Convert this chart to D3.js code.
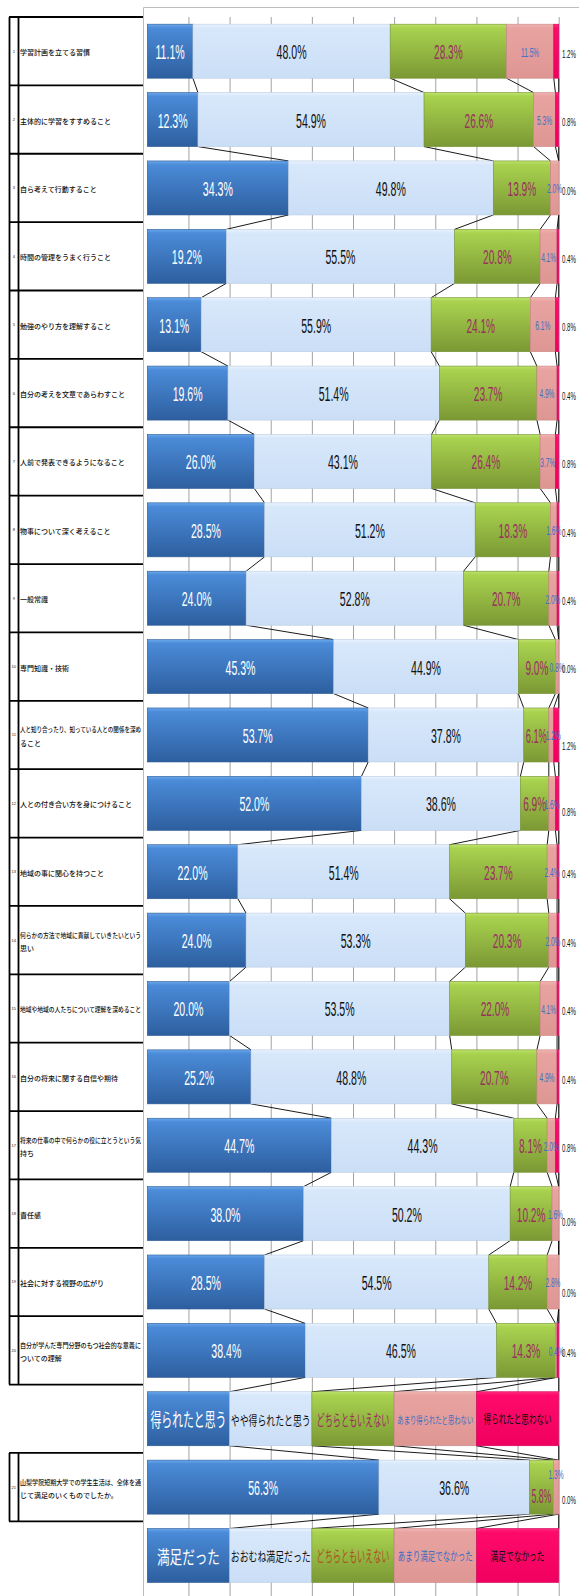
<!DOCTYPE html>
<html><head><meta charset="utf-8">
<script src="https://cdn.jsdelivr.net/npm/d3@7"></script>
<style>body{margin:0;background:#fff}svg{display:block}</style>
</head><body><svg id="c" width="579" height="1596"></svg>
<script>
// ---------- DATA ----------
const questions = [
  "学習計画を立てる習慣",
  "主体的に学習をすすめること",
  "自ら考えて行動すること",
  "時間の管理をうまく行うこと",
  "勉強のやり方を理解すること",
  "自分の考えを文章であらわすこと",
  "人前で発表できるようになること",
  "物事について深く考えること",
  "一般常識",
  "専門知識・技術",
  "人と知り合ったり、知っている人との関係を深め\nること",
  "人との付き合い方を身につけること",
  "地域の事に関心を持つこと",
  "何らかの方法で地域に貢献していきたいという\n思い",
  "地域や地域の人たちについて理解を深めること",
  "自分の将来に関する自信や期待",
  "将来の仕事の中で何らかの役に立とうという気\n持ち",
  "責任感",
  "社会に対する視野の広がり",
  "自分が学んだ専門分野のもつ社会的な意義に\nついての理解",
  "山梨学院短期大学での学生生活は、全体を通\nじて満足のいくものでしたか。"
];
const s1 = [11.1,12.3,34.3,19.2,13.1,19.6,26.0,28.5,24.0,45.3,53.7,52.0,22.0,24.0,20.0,25.2,44.7,38.0,28.5,38.4,56.3];
const s2 = [48.0,54.9,49.8,55.5,55.9,51.4,43.1,51.2,52.8,44.9,37.8,38.6,51.4,53.3,53.5,48.8,44.3,50.2,54.5,46.5,36.6];
const s3 = [28.3,26.6,13.9,20.8,24.1,23.7,26.4,18.3,20.7,9.0,6.1,6.9,23.7,20.3,22.0,20.7,8.1,10.2,14.2,14.3,5.8];
const s4 = [11.5,5.3,2.0,4.1,6.1,4.9,3.7,1.6,2.0,0.8,1.2,1.6,2.4,2.0,4.1,4.9,2.0,1.6,2.8,0.4,1.3];
const s5 = [1.2,0.8,0.0,0.4,0.8,0.4,0.8,0.4,0.4,0.0,1.2,0.8,0.4,0.4,0.4,0.4,0.8,0.0,0.0,0.4,0.0];
const legendA = ["得られたと思う","やや得られたと思う","どちらともいえない","あまり得られたと思わない","得られたと思わない"];
const legendB = ["満足だった","おおむね満足だった","どちらともいえない","あまり満足でなかった","満足でなかった"];
const legendShare = [20,20,20,20,20];
const gridTicks = [10,20,30,40,50,60,70,80,90,100];

// ---------- SETUP ----------
const svg = d3.select("#c");
const ids = [...d3.range(1,21).map(i=>"q"+i), "LA", "q21", "LB"];
const y = d3.scaleBand().domain(ids).range([17,1589.7]).paddingInner(0.21).paddingOuter(0.105);
const x = d3.scaleLinear().domain([0,100]).range([147.3,558.7]);
const bw = y.bandwidth();
const step = y.step();
const slotTop = id => y(id) - step*y.paddingInner()/2;
const series = [s1,s2,s3,s4,s5];

const rows = ids.map(id=>{
  if(id==="LA"||id==="LB") return {id, legend: id==="LA"?legendA:legendB, vals: legendShare};
  const i = +id.slice(1)-1;
  return {id, i, vals: series.map(s=>s[i])};
});
rows.forEach(r=>{
  const tot = d3.sum(r.vals); let c = 0;
  r.segs = r.vals.map((v,k)=>{const x0=c; c+=v/tot*100; return {k,v,x0,x1:c,row:r};});
});

// gradients
const defs = svg.append("defs");
const grads = [
  [["0","#6aa8ec"],["0.07","#4b8bd8"],["1","#2d5f9f"]],
  [["0","#eaf3fe"],["0.07","#d8e8fb"],["1","#cadef6"]],
  [["0","#bde36b"],["0.07","#a9d24f"],["1","#7b9834"]],
  [["0","#f0b4b1"],["0.07","#e8a3a0"],["1","#de9693"]],
  [["0","#ff2a7c"],["0.07","#ff0a6a"],["1","#f00060"]]
];
grads.forEach((g,k)=>{
  const lg = defs.append("linearGradient").attr("id","g"+k).attr("x1",0).attr("y1",0).attr("x2",0).attr("y2",1);
  g.forEach(s=>lg.append("stop").attr("offset",s[0]).attr("stop-color",s[1]));
});
const strokes = ["#2b5a94","#b9cbe2","#73902f","#c98684","#d0005a"];

// chart frame
svg.append("path").attr("d","M143.5,1596 V7.5 H579").attr("fill","none").attr("stroke","#bcbcbc").attr("stroke-width",1);

// gridlines
svg.append("g").attr("transform","translate(0,17)")
  .call(d3.axisTop(x).tickValues(gridTicks).tickSize(-(1596-17)).tickFormat(""))
  .call(g=>g.select(".domain").remove())
  .call(g=>g.selectAll("line").attr("stroke","#a3a3a3").attr("stroke-width",1));

// series lines
const sl = svg.append("g").attr("stroke","#000").attr("stroke-width",0.9);
for(let j=0;j<rows.length-1;j++){
  const a=rows[j], b=rows[j+1];
  for(let k=0;k<5;k++){
    sl.append("line")
      .attr("x1",x(a.segs[k].x1)).attr("y1",y(a.id)+bw)
      .attr("x2",x(b.segs[k].x1)).attr("y2",y(b.id));
  }
}

// bars
const rowG = svg.append("g").selectAll("g").data(rows).join("g");
rowG.selectAll("rect").data(r=>r.segs.filter(s=>s.x1-s.x0>0)).join("rect")
  .attr("x",s=>x(s.x0)).attr("y",s=>y(s.row.id))
  .attr("width",s=>x(s.x1)-x(s.x0)).attr("height",bw)
  .attr("fill",s=>`url(#g${s.k})`).attr("stroke",s=>strokes[s.k]).attr("stroke-width",0.6);

// data labels
const numFont = "'Liberation Sans Narrow','Liberation Sans',Arial,sans-serif";
function textW(txt, fs, family){
  const t = svg.append("text").attr("font-family",family).attr("font-size",fs).text(txt);
  const w = t.node().getComputedTextLength(); t.remove(); return w;
}
function fitScale(txt, fs, target, family){ return target/textW(txt,fs,family); }
const bigSx = fitScale("48.0%",21,30,numFont);
const s4Sx = fitScale("4.9%",13,15,numFont);
const s5Sx = fitScale("0.4%",11.5,14,numFont);
const fmt = v=>d3.format(".1f")(v)+"%";
const labelColors = ["#ffffff","#111111","#9a2f60","#3b70c4","#111111"];
// manual label placement tweaks (as in the original chart)
const s5Nudge = {q11:10, q12:7, q18:7, q19:10, q21:13};
const segNudge = {q21:{2:8, 3:-14}};
const segNudgeX = {q11:{3:2}};
const lab = svg.append("g").attr("font-family",numFont);
rows.filter(r=>!r.legend).forEach(r=>{
  const cy = y(r.id)+bw/2+1;
  r.segs.forEach(s=>{
    let cx, fs, sx, anchor="middle", dy=0;
    const segW = x(s.x1)-x(s.x0);
    if(s.k<3){
      cx=(x(s.x0)+x(s.x1))/2; fs=s.k===2?20:21; sx=bigSx;
      const w = textW(fmt(s.v),fs,numFont)*sx;
      if(w>segW-4) sx = sx*(segW-4)/w;
    }
    else if(s.k===3){ cx=(x(s.x0)+x(s.x1))/2; fs=13; sx=s4Sx; }
    else { cx=562; fs=11.5; sx=s5Sx; anchor="start"; dy=2+(s5Nudge[r.id]||0)*0.8; }
    if(segNudge[r.id] && segNudge[r.id][s.k]!==undefined) dy=segNudge[r.id][s.k];
    if(segNudgeX[r.id] && segNudgeX[r.id][s.k]!==undefined) cx+=segNudgeX[r.id][s.k];
    lab.append("text").attr("transform",`translate(${cx},${cy+dy}) scale(${sx},1)`)
      .attr("text-anchor",anchor).attr("dominant-baseline","central")
      .attr("font-size",fs).attr("fill",labelColors[s.k]).text(fmt(s.v));
  });
});

// legend rows text
const jp = "'Noto Sans CJK JP','Noto Sans',sans-serif";
const legStyle = {
  LA: [{fs:19,w:76,f:"#ffffff"},{fs:13,w:80,f:"#111"},{fs:16,w:73,f:"#9a2f60"},{fs:10,w:76,f:"#3b70c4"},{fs:12.5,w:68,f:"#111"}],
  LB: [{fs:18,w:63,f:"#ffffff"},{fs:13,w:80,f:"#111"},{fs:16,w:73,f:"#a9541f"},{fs:12.5,w:75,f:"#3b70c4"},{fs:12.5,w:54,f:"#111"}]
};
rows.filter(r=>r.legend).forEach(r=>{
  const cy = y(r.id)+bw/2;
  r.segs.forEach((s,k)=>{
    const st = legStyle[r.id][k];
    const sx = fitScale(r.legend[k], st.fs, st.w, jp);
    svg.append("text").attr("font-family",jp)
      .attr("transform",`translate(${(x(s.x0)+x(s.x1))/2},${cy}) scale(${sx},1)`)
      .attr("text-anchor","middle").attr("dominant-baseline","central")
      .attr("font-size",st.fs).attr("fill",st.f).text(r.legend[k]);
  });
});

// left table
const tbl = svg.append("g");
const qIds = ids.filter(id=>id[0]==="q");
const t0 = slotTop("q1"), t20 = slotTop("q20")+step, t21 = slotTop("q21"), t22 = t21+step;
const ln = (x1,y1,x2,y2)=>tbl.append("line").attr("x1",x1).attr("y1",y1).attr("x2",x2).attr("y2",y2).attr("stroke","#000").attr("stroke-width",1.8);
d3.range(21).forEach(k=>ln(9,t0+k*step,143,t0+k*step));
ln(9,t21,143,t21); ln(9,t22,143,t22);
ln(9.5,t0,9.5,t20); ln(18.5,t0,18.5,t20);
ln(9.5,t21,9.5,t22); ln(18.5,t21,18.5,t22);
qIds.forEach((id,i)=>{
  const cy = slotTop(id)+step/2;
  tbl.append("text").attr("x",13.8).attr("y",cy).attr("text-anchor","middle").attr("dominant-baseline","central")
    .attr("font-family","'Liberation Sans',Arial,sans-serif").attr("font-size",4).attr("fill","#222").text(i+1);
  const lines = questions[i].split("\n");
  const offs = lines.length===1 ? [1] : [-5.5,8];
  lines.forEach((L,j)=>{
    const t = tbl.append("text").attr("x",20).attr("y",cy+offs[j]).attr("dominant-baseline","central")
      .attr("font-family",jp).attr("font-size",7).attr("font-weight",500).attr("fill","#111").text(L);
    const w = t.node().getComputedTextLength();
    if(w>121) t.attr("textLength",121).attr("lengthAdjust","spacingAndGlyphs");
  });
});
</script></body></html>
